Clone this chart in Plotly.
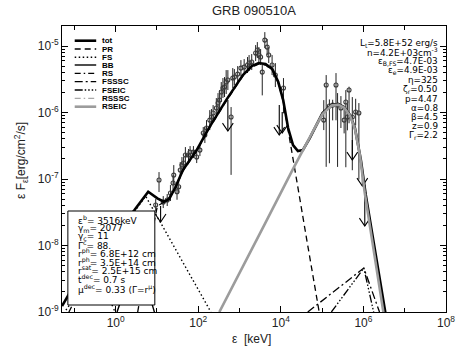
import plotly.graph_objects as go

# ---------------- model curves (log10 E [keV], log10 eF_e [erg/cm2/s]) ----------------
tot_logE = [-1.3, -0.538, 0.010, 0.455, 0.788, 1.010, 1.169, 1.295, 1.438, 1.629, 1.962, 2.271,
            2.676, 3.081, 3.295, 3.462, 3.629, 3.795, 3.938, 4.057, 4.176, 4.295, 4.414, 4.533,
            4.700, 4.867, 5.010, 5.224, 5.390, 5.533, 5.676, 5.795, 5.938, 6.057, 6.295, 6.533]
tot_logF = [-8.911, -8.098, -7.798, -7.467, -7.192, -7.291, -7.342, -7.302, -7.136, -6.865, -6.565, -6.219,
            -5.813, -5.437, -5.302, -5.256, -5.271, -5.347, -5.542, -5.813, -6.234, -6.489, -6.580, -6.565,
            -6.384, -6.174, -6.008, -5.888, -5.873, -5.918, -6.038, -6.234, -6.715, -7.241, -8.128, -9.016]

pr_logE = [0.533, 0.771, 1.010, 1.248, 1.438, 1.629, 1.962, 2.271, 2.676, 3.081, 3.295, 3.462, 3.629,
           3.795, 3.938, 4.057, 4.176, 4.264, 4.302, 4.383, 4.629, 4.898, 4.962]
pr_logF = [-9.001, -8.144, -7.407, -7.316, -7.151, -6.880, -6.580, -6.234, -5.828, -5.452, -5.317, -5.271, -5.286,
           -5.362, -5.557, -5.828, -6.264, -6.614, -6.741, -7.016, -7.918, -8.921, -9.121]

fs_logE = [-1.205, 0.724, 2.279, 2.343]
fs_logF = [-8.971, -7.256, -8.971, -9.061]

bb_logE = [0.033, 0.295, 0.486, 0.676, 0.938, 1.010]
bb_logF = [-9.001, -8.520, -8.309, -8.444, -9.001, -9.270]

rs_logE = [-1.133, -0.776, -0.538, -0.300, -0.014, 0.057]
rs_logF = [-9.001, -8.550, -8.399, -8.595, -9.001, -9.121]

fsssc_logE = [4.652, 6.010, 6.390]
fsssc_logF = [-9.000, -8.339, -9.001]

fseic_logE = [5.224, 6.010, 6.248]
fseic_logF = [-9.000, -8.339, -9.001]

rsssc_logE = [4.700, 5.600, 6.100]
rsssc_logF = [-9.500, -9.250, -9.600]

rseic_logE = [2.510, 2.914, 3.629, 4.302, 4.581, 4.819, 5.010, 5.224, 5.390, 5.533, 5.676, 5.795,
              5.914, 6.033, 6.248, 6.486, 6.533]
rseic_logF = [-9.001, -8.520, -7.655, -6.840, -6.505, -6.234, -6.023, -5.896, -5.881, -5.926, -6.046, -6.249,
              -6.640, -7.211, -8.068, -9.001, -9.197]

# ---------------- data points ----------------
gbm_logE = [0.969, 1.050, 1.152, 1.248, 1.326, 1.390, 1.407, 1.486, 1.526, 1.564, 1.605, 1.645, 1.688,
            1.764, 1.802, 1.883, 1.962, 2.040, 2.121, 2.160, 2.200, 2.279, 2.319, 2.360, 2.438, 2.479,
            2.517, 2.557, 2.598, 2.636, 2.676, 2.717, 2.795, 2.836, 2.874, 2.955, 3.033, 3.112, 3.193,
            3.231, 3.295, 3.390, 3.431, 3.469, 3.510, 3.550, 3.612, 3.669, 3.707, 3.788, 3.867, 4.064]
gbm_logF = [-7.392, -7.016, -7.347, -7.316, -7.211, -7.061, -6.941, -7.192, -7.117, -6.865, -6.790, -6.760, -6.640,
            -6.640, -6.595, -6.595, -6.670, -6.565, -6.309, -6.339, -6.234, -6.114, -6.068, -6.008, -5.933, -5.858,
            -5.813, -5.692, -5.632, -5.617, -5.542, -5.512, -6.068, -5.482, -5.467, -5.422, -5.332, -5.317, -5.286,
            -5.256, -5.241, -5.106, -5.061, -5.136, -5.166, -5.392, -4.911, -5.016, -5.136, -5.286, -5.437, -5.632]
gbm_up = [0.09, 0.12, 0.09, 0.09, 0.12, 0.12, 0.15, 0.12, 0.09, 0.12, 0.12, 0.09, 0.12,
          0.09, 0.09, 0.09, 0.09, 0.09, 0.09, 0.12, 0.12, 0.15, 0.12, 0.12, 0.15, 0.15,
          0.15, 0.15, 0.15, 0.15, 0.18, 0.15, 0.15, 0.15, 0.12, 0.12, 0.12, 0.12, 0.12,
          0.12, 0.12, 0.12, 0.12, 0.12, 0.12, 0.12, 0.12, 0.12, 0.12, 0.15, 0.18, 0.15]
gbm_dn = [0.09, 0.18, 0.09, 0.09, 0.12, 0.12, 0.15, 0.12, 0.09, 0.12, 0.12, 0.09, 0.12,
          0.09, 0.09, 0.09, 0.09, 0.09, 0.09, 0.12, 0.12, 0.15, 0.12, 0.12, 0.15, 0.15,
          0.15, 0.15, 0.15, 0.15, 0.18, 0.15, 0.87, 0.15, 0.12, 0.12, 0.12, 0.12, 0.12,
          0.12, 0.12, 0.12, 0.12, 0.12, 0.12, 0.35, 0.12, 0.12, 0.12, 0.15, 0.18, 0.38]

lat_logE = [5.040, 5.098, 5.176, 5.255, 5.336, 5.374, 5.455, 5.533, 5.574, 5.612, 5.652, 5.731, 5.812, 5.890]
lat_logF = [-6.114, -5.587, -5.903, -5.888, -5.587, -5.888, -5.933, -6.114, -5.843, -6.068, -5.662, -6.068, -5.993, -6.008]
lat_up = [0.30, 0.15, 0.10, 0.08, 0.18, 0.18, 0.18, 0.20, 0.18, 0.20, 0.05, 0.30, 0.20, 0.15]
lat_dn = [0.15, 1.23, 0.86, 0.23, 0.53, 0.93, 0.30, 0.20, 0.98, 0.20, 0.50, 0.80, 0.20, 1.00]

# upper limits: energy, value, arrow tip
ul_logE = [1.088, 2.717, 3.962, 4.033, 5.731, 5.974, 6.033]
ul_logF = [-7.407, -5.813, -5.888, -5.993, -6.414, -6.865, -7.091]
ul_tip = [-7.647, -6.279, -6.339, -6.309, -6.715, -7.106, -7.708]

# ---------------- text ----------------
title_text = "GRB 090510A"
x_ticks = [0, 2, 4, 6, 8]
y_ticks = [-9, -8, -7, -6, -5]
legend_names = ["tot", "PR", "FS", "BB", "RS", "FSSSC", "FSEIC", "RSSSC", "RSEIC"]
right_params = ["L<sub>t</sub>=5.8E+52 erg/s", "n=4.2E+03cm<sup>-3</sup>", "ε<sub>B,FS</sub>=4.7E-03",
                "ε<sub>e</sub>=4.9E-03", "η=325", "ζ<sub>r</sub>=0.50", "p=4.47", "α=0.8",
                "β=4.5", "z=0.9", "Γ<sub>r</sub>=2.2"]
box_params = ["ε<sup>b</sup>= 3516keV", "γ<sub>m</sub>= 2077", "γ<sub>c</sub>= 11", "Γ<sup>c</sup>= 88.",
              "r<sup>ph</sup>= 6.8E+12 cm", "r<sup>ph</sup>= 3.5E+14 cm", "r<sup>sat</sup>= 2.5E+15 cm",
              "t<sup>dec</sup>= 0.7 s", "μ<sup>dec</sup>= 0.33 (Γ=r<sup>μ</sup>)"]

FONT = "Liberation Sans, Arial, sans-serif"
SMALL = "DejaVu Sans, sans-serif"
W, H = 466, 348
L, R, T, B = 62, 11, 26, 36


def p10(a):
    return [10 ** v for v in a]


def pxx(p):
    return (p - L) / (W - L - R)


def pxy(p):
    return (H - B - p) / (H - T - B)


styles = {
    "tot": dict(color="black", width=2.6, dash="solid"),
    "PR": dict(color="black", width=1.3, dash="6px,4px"),
    "FS": dict(color="black", width=1.4, dash="1.5px,2.5px"),
    "BB": dict(color="black", width=1.4, dash="solid"),
    "RS": dict(color="black", width=1.3, dash="6px,3px,1.5px,3px"),
    "FSSSC": dict(color="black", width=1.3, dash="8px,3px,2px,3px"),
    "FSEIC": dict(color="black", width=1.3, dash="8px,2px,1.5px,2px,1.5px,2px,1.5px,2px"),
    "RSSSC": dict(color="#a8a8a8", width=1.3, dash="6px,3px,1.5px,3px"),
    "RSEIC": dict(color="#9c9c9c", width=2.6, dash="solid"),
}

curves = [("tot", tot_logE, tot_logF), ("PR", pr_logE, pr_logF), ("FS", fs_logE, fs_logF),
          ("BB", bb_logE, bb_logF), ("RS", rs_logE, rs_logF), ("FSSSC", fsssc_logE, fsssc_logF),
          ("FSEIC", fseic_logE, fseic_logF), ("RSSSC", rsssc_logE, rsssc_logF),
          ("RSEIC", rseic_logE, rseic_logF)]

fig = go.Figure()


def add_points(lx, lf, up, dn, name):
    f = p10(lf)
    eu = [fv * (10 ** u - 1) for fv, u in zip(f, up)]
    ed = [fv * (1 - 10 ** -d) for fv, d in zip(f, dn)]
    fig.add_trace(go.Scatter(
        x=p10(lx), y=f, mode="markers", name=name, showlegend=False,
        marker=dict(symbol="circle-open", size=4, color="#3a3a3a", line=dict(width=1.1, color="#3a3a3a")),
        error_y=dict(type="data", array=eu, arrayminus=ed, color="#222222", thickness=1.0, width=0),
    ))


add_points(gbm_logE, gbm_logF, gbm_up, gbm_dn, "GBM")
add_points(lat_logE, lat_logF, lat_up, lat_dn, "LAT")

# upper-limit arrows
ax, ay = [], []
for e, v, t in zip(ul_logE, ul_logF, ul_tip):
    ax += [10 ** e, 10 ** e, None, 10 ** (e - 0.13), 10 ** e, 10 ** (e + 0.13), None]
    ay += [10 ** v, 10 ** t, None, 10 ** (t + 0.12), 10 ** t, 10 ** (t + 0.12), None]
fig.add_trace(go.Scatter(x=ax, y=ay, mode="lines", showlegend=False,
                         line=dict(color="black", width=1.1), connectgaps=False))

for name, lx, lf in curves:
    fig.add_trace(go.Scatter(x=p10(lx), y=p10(lf), mode="lines", name=name, showlegend=False,
                             line=styles[name]))

shapes = []
annotations = []

# parameter box (covers the curves beneath it)
shapes.append(dict(type="rect", xref="paper", yref="paper", x0=pxx(68), x1=pxx(157),
                   y0=pxy(305), y1=pxy(211), fillcolor="white", line=dict(color="black", width=1),
                   layer="above"))
box_y = [220, 228.3, 236.5, 244.5, 253, 261.5, 270, 279, 288.5]
for txt, yy in zip(box_params, box_y):
    annotations.append(dict(text=txt, x=pxx(76), y=pxy(yy), xref="paper", yref="paper",
                            xanchor="left", yanchor="middle", showarrow=False,
                            font=dict(family=SMALL, size=9, color="black")))

# legend drawn by hand
leg_y = [40.7, 49, 57.3, 65, 73.3, 81.7, 90, 98.3, 106.7]
for name, yy in zip(legend_names, leg_y):
    st = styles[name]
    shapes.append(dict(type="line", xref="paper", yref="paper", x0=pxx(75), x1=pxx(97),
                       y0=pxy(yy), y1=pxy(yy), layer="above",
                       line=dict(color=st["color"], width=st["width"], dash=st["dash"])))
    annotations.append(dict(text="<b>%s</b>" % name, x=pxx(101), y=pxy(yy), xref="paper", yref="paper",
                            xanchor="left", yanchor="middle", showarrow=False,
                            font=dict(family=FONT, size=8, color="black")))

# right-side parameters
right_y = [43.5, 52, 61.5, 70.5, 80.5, 89.5, 99, 108.5, 117.5, 126.5, 135.5]
for txt, yy in zip(right_params, right_y):
    annotations.append(dict(text=txt, x=pxx(449), y=pxy(yy), xref="paper", yref="paper",
                            xanchor="right", yanchor="middle", showarrow=False,
                            font=dict(family=SMALL, size=8.8, color="black")))

# titles
annotations.append(dict(text=title_text, x=pxx(258), y=pxy(11), xref="paper", yref="paper",
                        xanchor="center", yanchor="middle", showarrow=False,
                        font=dict(family=FONT, size=13, color="#222222")))
annotations.append(dict(text="ε  [keV]", x=pxx(256), y=pxy(339), xref="paper", yref="paper",
                        xanchor="center", yanchor="middle", showarrow=False,
                        font=dict(family=FONT, size=12, color="#222222")))
annotations.append(dict(text="ε F<sub>ε</sub>[erg/cm<sup>2</sup>/s]", x=pxx(20), y=pxy(160),
                        xref="paper", yref="paper", textangle=-90,
                        xanchor="center", yanchor="middle", showarrow=False,
                        font=dict(family=FONT, size=12, color="#222222")))

y_minor = [k * 10.0 ** n for n in range(-9, -4) for k in range(2, 10) if k * 10.0 ** n <= 2e-5]

fig.update_layout(
    width=W, height=H, margin=dict(l=L, r=R, t=T, b=B),
    paper_bgcolor="white", plot_bgcolor="white",
    shapes=shapes, annotations=annotations, showlegend=False,
    xaxis=dict(type="log", range=[-1.3, 8], showgrid=False, zeroline=False,
               showline=True, linecolor="black", linewidth=1, mirror="allticks",
               ticks="inside", ticklen=6, tickcolor="black",
               tickvals=[10 ** v for v in x_ticks],
               ticktext=["10<sup>%d</sup>" % v for v in x_ticks],
               tickfont=dict(family=FONT, size=12, color="#222222"),
               minor=dict(ticks="inside", ticklen=4, tickcolor="black",
                          tickvals=[10 ** v for v in [-1, 1, 3, 5, 7]])),
    yaxis=dict(type="log", range=[-9, -4.699], showgrid=False, zeroline=False,
               showline=True, linecolor="black", linewidth=1, mirror="allticks",
               ticks="inside", ticklen=6, tickcolor="black",
               tickvals=[10 ** v for v in y_ticks],
               ticktext=["10<sup>%d</sup>" % v for v in y_ticks],
               tickfont=dict(family=FONT, size=12, color="#222222"),
               minor=dict(ticks="inside", ticklen=3, tickcolor="black", tickvals=y_minor)),
)

fig.write_html("out.html")
